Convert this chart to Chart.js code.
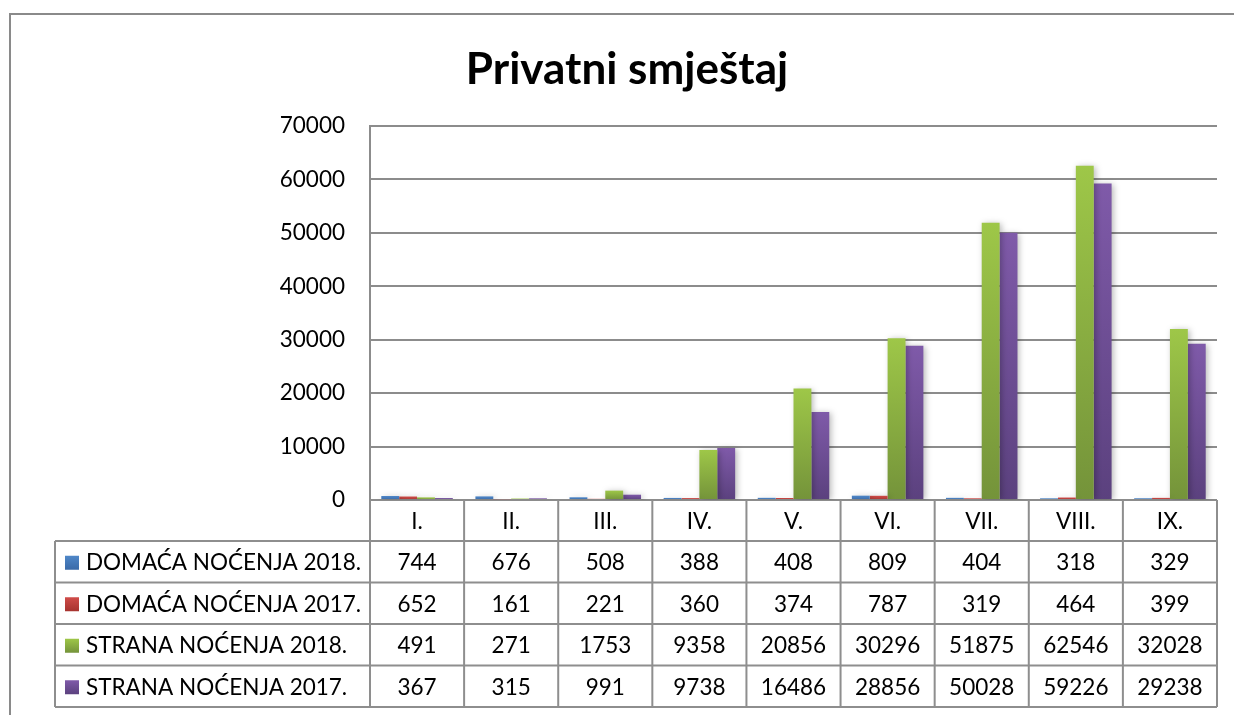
<!DOCTYPE html>
<html>
<head>
<meta charset="utf-8">
<script src="https://cdn.jsdelivr.net/npm/chart.js@4.4.0/dist/chart.umd.min.js"></script>
<style>
html, body { margin: 0; padding: 0; background: #fff; }
#wrap { position: relative; width: 1234px; height: 715px; }
</style>
</head>
<body>
<div id="wrap"><canvas id="myChart"></canvas></div>
<script>
// podaci
var mjeseci = ["I.", "II.", "III.", "IV.", "V.", "VI.", "VII.", "VIII.", "IX."];
var domaca2018 = [744, 676, 508, 388, 408, 809, 404, 318, 329];
var domaca2017 = [652, 161, 221, 360, 374, 787, 319, 464, 399];
var strana2018 = [491, 271, 1753, 9358, 20856, 30296, 51875, 62546, 32028];
var strana2017 = [367, 315, 991, 9738, 16486, 28856, 50028, 59226, 29238];
var nazivi = ["DOMAĆA NOĆENJA 2018.", "DOMAĆA NOĆENJA 2017.", "STRANA NOĆENJA 2018.", "STRANA NOĆENJA 2017."];
var naslov = "Privatni smještaj";
var yMin = 0, yMax = 70000, yKorak = 10000;

var boje = [
    ["#4f87c8", "#3a6aa8"],
    ["#d04c49", "#a6332f"],
    ["#9ec748", "#74933a"],
    ["#7f5aa9", "#5b417e"]
];
var fontName = "Lato";

function gradijent(idx) {
    return function (context) {
        var chart = context.chart;
        var area = chart.chartArea;
        if (!area || context.raw === undefined) return boje[idx][0];
        var y = chart.scales.y;
        var top = y.getPixelForValue(context.raw);
        var bottom = y.getPixelForValue(0);
        if (bottom - top < 1) return boje[idx][0];
        var g = chart.ctx.createLinearGradient(0, top, 0, bottom);
        g.addColorStop(0, boje[idx][0]);
        g.addColorStop(1, boje[idx][1]);
        return g;
    };
}

var sjena = {
    id: "sjena",
    beforeDatasetsDraw: function (chart) {
        var ctx = chart.ctx;
        ctx.save();
        ctx.shadowColor = "rgba(0,0,0,0.28)";
        ctx.shadowBlur = 6;
        ctx.shadowOffsetX = 2;
        ctx.shadowOffsetY = 1;
    },
    afterDatasetsDraw: function (chart) {
        chart.ctx.restore();
    }
};

var okvir = {
    id: "okvir",
    beforeDraw: function (chart) {
        var ctx = chart.ctx;
        ctx.save();
        ctx.strokeStyle = "#8a8a8a";
        ctx.lineWidth = 2;
        ctx.beginPath();
        ctx.moveTo(10, chart.height + 5);
        ctx.lineTo(10, 14);
        ctx.lineTo(chart.width + 5, 14);
        ctx.stroke();
        ctx.restore();
    }
};

var tablica = {
    id: "tablica",
    afterDraw: function (chart) {
        var ctx = chart.ctx;
        var area = chart.chartArea;
        var x = chart.scales.x;
        var sirina = (area.right - area.left) / mjeseci.length;
        var vrh = area.bottom;
        var visinaZaglavlja = 41;
        var visinaReda = 41.5;
        var lijevo = 55;
        var redovi = [domaca2018, domaca2017, strana2018, strana2017];
        var dno = vrh + visinaZaglavlja + visinaReda * redovi.length;

        ctx.save();
        // naslov
        ctx.fillStyle = "#000";
        ctx.font = "bold 44px " + fontName;
        ctx.textAlign = "center";
        ctx.textBaseline = "alphabetic";
        ctx.fillText(naslov, 627, 84);

        ctx.strokeStyle = "#8e8e8e";
        ctx.lineWidth = 2;
        ctx.beginPath();
        for (var i = 0; i <= mjeseci.length; i++) {
            var xx = area.left + sirina * i;
            ctx.moveTo(xx, vrh);
            ctx.lineTo(xx, dno);
        }
        ctx.moveTo(lijevo, vrh + visinaZaglavlja);
        ctx.lineTo(lijevo, dno);
        for (var r = 0; r <= redovi.length; r++) {
            var yy = vrh + visinaZaglavlja + visinaReda * r;
            ctx.moveTo(lijevo, yy);
            ctx.lineTo(area.right, yy);
        }
        ctx.stroke();

        ctx.font = "22.5px " + fontName;
        ctx.fillStyle = "#000";
        ctx.textBaseline = "middle";
        ctx.textAlign = "center";
        for (var m = 0; m < mjeseci.length; m++) {
            ctx.fillText(mjeseci[m], x.getPixelForValue(m), vrh + visinaZaglavlja / 2 + 1);
        }
        for (var r2 = 0; r2 < redovi.length; r2++) {
            var cy = vrh + visinaZaglavlja + visinaReda * r2 + visinaReda / 2 + 1;
            ctx.textAlign = "center";
            for (var k = 0; k < mjeseci.length; k++) {
                ctx.fillText(String(redovi[r2][k]), x.getPixelForValue(k), cy);
            }
            // legenda
            var g = ctx.createLinearGradient(0, cy - 7, 0, cy + 7);
            g.addColorStop(0, boje[r2][0]);
            g.addColorStop(1, boje[r2][1]);
            ctx.fillStyle = g;
            ctx.fillRect(65, cy - 7, 14, 14);
            ctx.fillStyle = "#000";
            ctx.textAlign = "left";
            ctx.fillText(nazivi[r2], 86, cy);
        }
        ctx.restore();
    }
};

new Chart(document.getElementById("myChart"), {
    type: "bar",
    data: {
        labels: mjeseci,
        datasets: [
            { label: nazivi[0], data: domaca2018, backgroundColor: gradijent(0) },
            { label: nazivi[1], data: domaca2017, backgroundColor: gradijent(1) },
            { label: nazivi[2], data: strana2018, backgroundColor: gradijent(2) },
            { label: nazivi[3], data: strana2017, backgroundColor: gradijent(3) }
        ]
    },
    options: {
        responsive: true,
        maintainAspectRatio: false,
        animation: false,
        layout: { padding: { left: 0, top: 126, right: 17, bottom: 215 } },
        datasets: { bar: { categoryPercentage: 0.76, barPercentage: 1.0 } },
        plugins: {
            legend: { display: false },
            title: { display: false },
            tooltip: { enabled: false }
        },
        scales: {
            x: {
                display: false,
                grid: { display: false }
            },
            y: {
                min: yMin,
                max: yMax,
                afterFit: function (scale) { scale.width = 370; },
                ticks: {
                    stepSize: yKorak,
                    padding: 25,
                    color: "#000",
                    font: { family: fontName, size: 22.5 },
                    callback: function (v) { return String(v); }
                },
                grid: { color: "#8c8c8c", lineWidth: 2, drawTicks: false },
                border: { display: true, color: "#8c8c8c", width: 2 }
            }
        }
    },
    plugins: [okvir, sjena, tablica]
});
</script>
</body>
</html>
